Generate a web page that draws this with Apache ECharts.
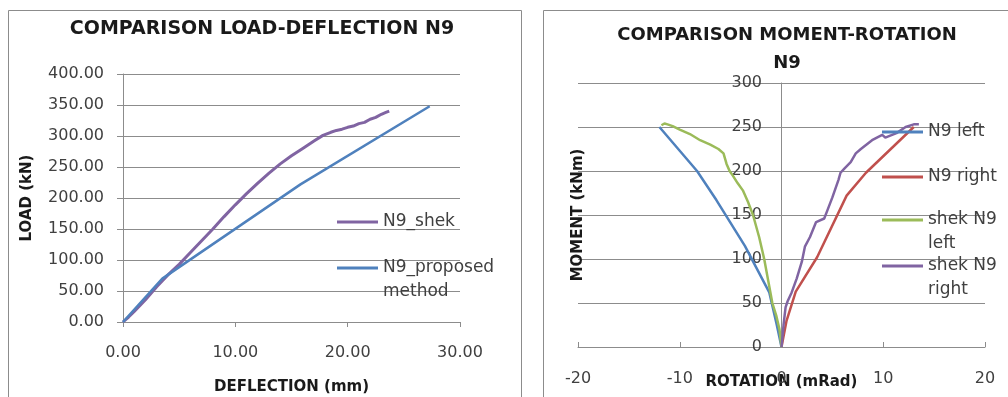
<!DOCTYPE html>
<html>
<head>
<meta charset="utf-8">
<script src="https://cdn.jsdelivr.net/npm/echarts@6/dist/echarts.min.js"></script>
<style>
html,body{margin:0;padding:0;background:#fff;}
#c{width:1008px;height:397px;}
</style>
</head>
<body>
<div id="c"></div>
<script>
// ---- Left chart: load-deflection ----
var shekDefl = [0, 0.5, 1, 2, 3, 4, 5, 6, 7, 8, 9, 10, 11, 12, 13, 14, 15, 16, 17, 17.8, 18.5, 19, 19.5, 20, 20.5, 21, 21.5, 22, 22.5, 23, 23.4, 23.7];
var shekLoad = [0, 8, 17, 36, 57, 76, 93, 112, 131, 150, 170, 189, 207, 224, 240, 255, 268, 280, 292, 301, 306, 309, 311, 314, 316, 320, 322, 327, 330, 335, 338, 340];
var propDefl = [0, 3.5, 15.8, 27.3];
var propLoad = [0, 70, 222, 348];
var loadTicks = [0, 50, 100, 150, 200, 250, 300, 350, 400];
var deflTicks = [0, 10, 20, 30];

// ---- Right chart: moment-rotation ----
var n9LeftRot = [0, -0.5, -1.2, -3.6, -6.4, -8.3, -12];
var n9LeftMom = [0, 27, 62, 115, 167, 200, 250];
var n9RightRot = [0, 0.5, 1.4, 3.5, 6.4, 8.3, 13];
var n9RightMom = [0, 30, 63, 102, 172, 198, 250];
var shekLeftRot = [0, -0.2, -0.5, -0.9, -1.3, -1.7, -2.2, -2.8, -3.3, -3.8, -4.3, -4.8, -5.1, -5.4, -5.7, -6.2, -7, -8, -9, -10, -10.7, -11.2, -11.5, -11.8];
var shekLeftMom = [0, 20, 35, 50, 75, 100, 125, 150, 165, 178, 186, 195, 200, 208, 220, 225, 230, 235, 242, 247, 251, 253, 254, 252];
var shekRightRot = [0, 0.2, 0.4, 0.6, 1.0, 1.5, 2.0, 2.3, 2.8, 3.4, 4.2, 4.5, 5.0, 5.6, 5.8, 6.2, 6.8, 7.3, 7.8, 8.9, 9.9, 10.2, 11.3, 12.2, 13.0, 13.5];
var shekRightMom = [0, 25, 45, 52, 62, 78, 97, 114, 125, 142, 146, 155, 170, 190, 198, 203, 210, 220, 225, 235, 241, 238, 243, 250, 253, 253];
var momentTicks = [0, 50, 100, 150, 200, 250, 300];
var rotTicks = [-20, -10, 0, 10, 20];

function pairs(xs, ys) { return xs.map(function (x, i) { return [x, ys[i]]; }); }

var FONT = 'DejaVu Sans';
var AX = '#8c8c8c';
var TXT = '#404040';
var DARK = '#1a1a1a';
var BLUE = '#4F81BD', RED = '#C0504D', GREEN = '#9BBB59', PURPLE = '#8064A2';
var LH = 24;

function legendItem(name, label, left, top, color) {
  var multi = label.indexOf('\n') >= 0;
  return {
    data: [{ name: name, itemStyle: { color: color } }],
    orient: 'vertical', left: left, top: top, padding: 0, itemGap: 0,
    icon: 'rect', itemWidth: 41, itemHeight: 3,
    textStyle: { fontFamily: FONT, fontSize: 17, color: TXT, lineHeight: LH },
    formatter: function () { return multi ? '\n' + label : label; },
    selectedMode: false
  };
}

var chart = echarts.init(document.getElementById('c'), null, { renderer: 'canvas' });
chart.setOption({
  backgroundColor: '#fff',
  animation: false,
  graphic: [
    { type: 'rect', shape: { x: 8.5, y: 10.5, width: 513, height: 400 }, style: { fill: 'none', stroke: AX, lineWidth: 1 } },
    { type: 'rect', shape: { x: 543.5, y: 10.5, width: 480, height: 400 }, style: { fill: 'none', stroke: AX, lineWidth: 1 } }
  ],
  title: [
    { text: 'COMPARISON LOAD-DEFLECTION N9', left: 262, top: 17, textAlign: 'center', padding: 0,
      textStyle: { fontFamily: FONT, fontSize: 19, fontWeight: 'bold', color: DARK, lineHeight: 24 } },
    { text: 'COMPARISON MOMENT-ROTATION\nN9', left: 787, top: 21, textAlign: 'center', padding: 0,
      textStyle: { fontFamily: FONT, fontSize: 18, fontWeight: 'bold', color: DARK, lineHeight: 28 } }
  ],
  legend: [
    legendItem('N9_shek', 'N9_shek', 337, 210, PURPLE),
    legendItem('N9_proposed method', 'N9_proposed\nmethod', 337, 232, BLUE),
    legendItem('N9 left', 'N9 left', 882, 120, BLUE),
    legendItem('N9 right', 'N9 right', 882, 165, RED),
    legendItem('shek N9 left', 'shek N9\nleft', 882, 184, GREEN),
    legendItem('shek N9 right', 'shek N9\nright', 882, 230, PURPLE)
  ],
  grid: [
    { left: 123, top: 74, width: 337, height: 248, containLabel: false, outerBoundsMode: 'none' },
    { left: 578, top: 83, width: 407, height: 264, containLabel: false, outerBoundsMode: 'none' }
  ],
  xAxis: [
    { gridIndex: 0, type: 'value', min: deflTicks[0], max: deflTicks[deflTicks.length - 1], interval: 10,
      name: 'DEFLECTION (mm)', nameLocation: 'middle', nameGap: 58, nameMoveOverlap: false,
      nameTextStyle: { fontFamily: FONT, fontSize: 15, fontWeight: 'bold', color: DARK },
      axisLine: { lineStyle: { color: AX } }, axisTick: { show: true, length: 5, lineStyle: { color: AX } },
      splitLine: { show: false },
      axisLabel: { fontFamily: FONT, fontSize: 16, color: TXT, margin: 23, formatter: function (v) { return v.toFixed(2); } } },
    { gridIndex: 1, type: 'value', min: rotTicks[0], max: rotTicks[rotTicks.length - 1], interval: 10,
      name: 'ROTATION (mRad)', nameLocation: 'middle', nameGap: 28, nameMoveOverlap: false,
      nameTextStyle: { fontFamily: FONT, fontSize: 15, fontWeight: 'bold', color: DARK },
      axisLine: { lineStyle: { color: AX } }, axisTick: { show: true, inside: true, length: 5, lineStyle: { color: AX } },
      splitLine: { show: false },
      axisLabel: { fontFamily: FONT, fontSize: 16, color: TXT, margin: 24 } }
  ],
  yAxis: [
    { gridIndex: 0, type: 'value', min: loadTicks[0], max: loadTicks[loadTicks.length - 1], interval: 50,
      name: 'LOAD (kN)', nameLocation: 'middle', nameGap: 88, nameMoveOverlap: false,
      nameTextStyle: { fontFamily: FONT, fontSize: 15, fontWeight: 'bold', color: DARK },
      axisLine: { show: true, lineStyle: { color: AX } }, axisTick: { show: true, length: 6, lineStyle: { color: AX } },
      splitLine: { show: true, lineStyle: { color: AX, width: 1 } },
      axisLabel: { fontFamily: FONT, fontSize: 16, color: TXT, margin: 19, formatter: function (v) { return v.toFixed(2); } } },
    { gridIndex: 1, type: 'value', min: momentTicks[0], max: momentTicks[momentTicks.length - 1], interval: 50,
      name: 'MOMENT (kNm)', nameLocation: 'middle', nameGap: -8, nameMoveOverlap: false,
      nameTextStyle: { fontFamily: FONT, fontSize: 15, fontWeight: 'bold', color: DARK },
      axisLine: { show: true, onZero: true, lineStyle: { color: AX } }, axisTick: { show: false },
      splitLine: { show: true, lineStyle: { color: AX, width: 1 } },
      axisLabel: { fontFamily: FONT, fontSize: 16, color: TXT, margin: -184 } }
  ],
  series: [
    { name: 'N9_shek', type: 'line', xAxisIndex: 0, yAxisIndex: 0, data: pairs(shekDefl, shekLoad),
      showSymbol: false, lineStyle: { color: PURPLE, width: 3 }, itemStyle: { color: PURPLE } },
    { name: 'N9_proposed method', type: 'line', xAxisIndex: 0, yAxisIndex: 0, data: pairs(propDefl, propLoad),
      showSymbol: false, lineStyle: { color: BLUE, width: 2.5 }, itemStyle: { color: BLUE } },
    { name: 'N9 left', type: 'line', xAxisIndex: 1, yAxisIndex: 1, data: pairs(n9LeftRot, n9LeftMom),
      showSymbol: false, lineStyle: { color: BLUE, width: 2.5 }, itemStyle: { color: BLUE } },
    { name: 'N9 right', type: 'line', xAxisIndex: 1, yAxisIndex: 1, data: pairs(n9RightRot, n9RightMom),
      showSymbol: false, lineStyle: { color: RED, width: 2.5 }, itemStyle: { color: RED } },
    { name: 'shek N9 left', type: 'line', xAxisIndex: 1, yAxisIndex: 1, data: pairs(shekLeftRot, shekLeftMom),
      showSymbol: false, lineStyle: { color: GREEN, width: 2.5 }, itemStyle: { color: GREEN } },
    { name: 'shek N9 right', type: 'line', xAxisIndex: 1, yAxisIndex: 1, data: pairs(shekRightRot, shekRightMom),
      showSymbol: false, lineStyle: { color: PURPLE, width: 2.5 }, itemStyle: { color: PURPLE } }
  ]
});
</script>
</body>
</html>
